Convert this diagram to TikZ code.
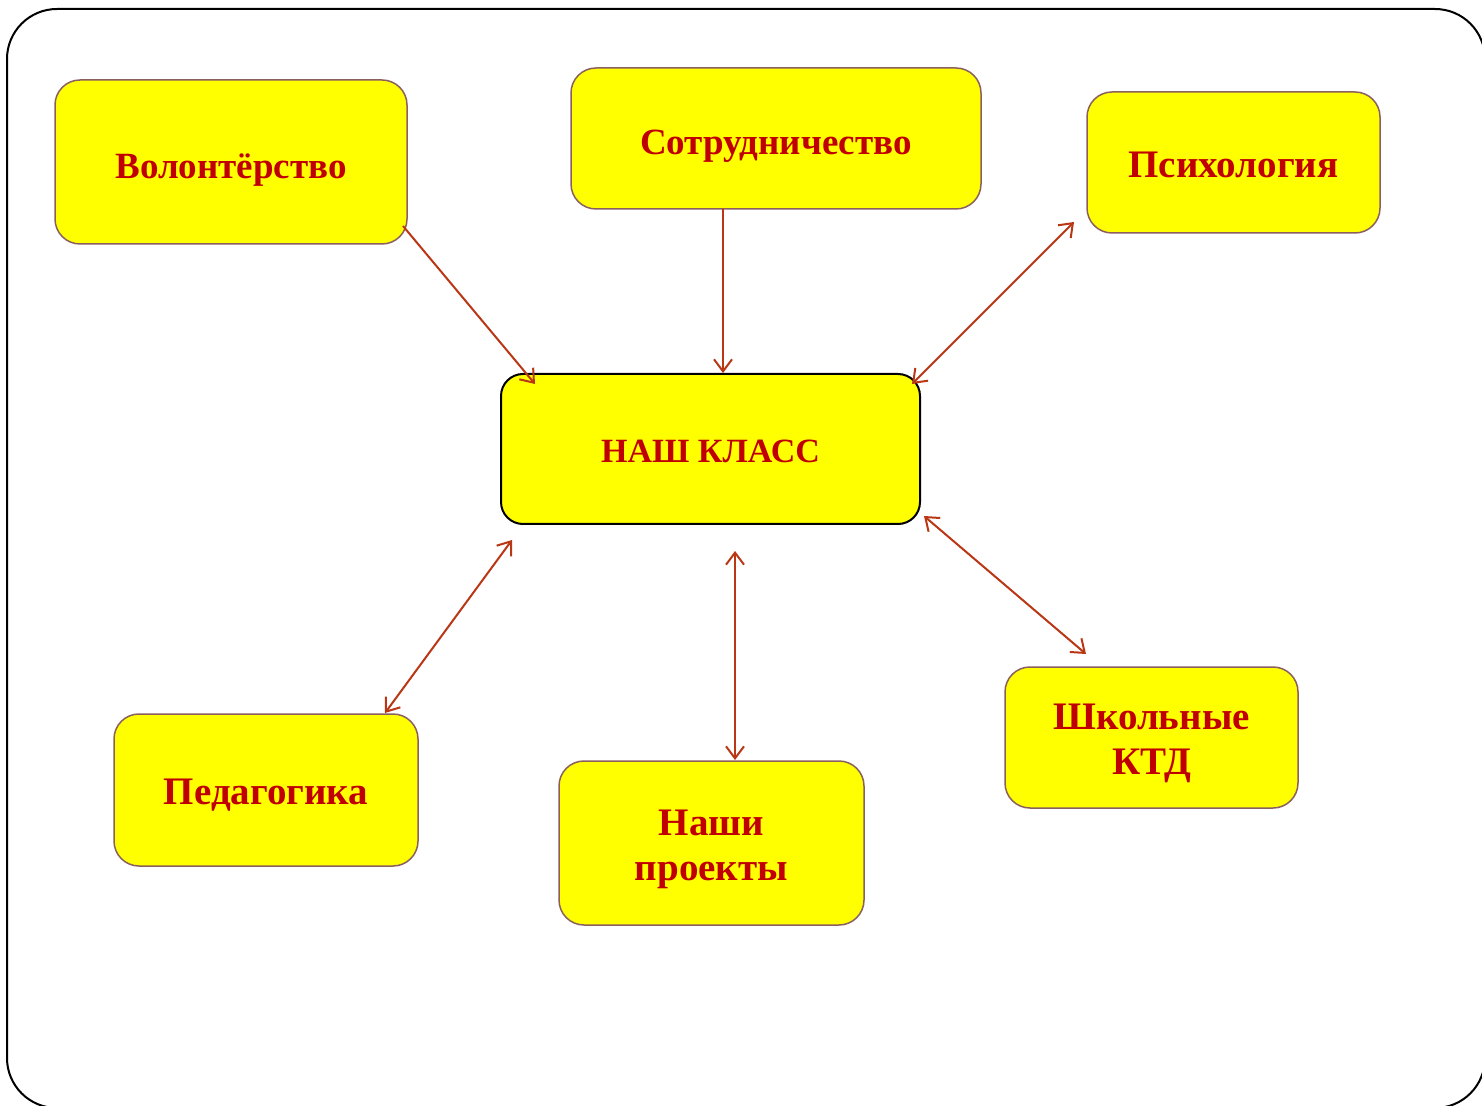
\documentclass[tikz,border=0pt]{standalone}
\usepackage{fontspec}
\setmainfont{Liberation Serif}
\usetikzlibrary{arrows.meta}
\definecolor{txtred}{RGB}{192,0,0}
\definecolor{arrred}{RGB}{185,55,20}
\definecolor{boxedge}{RGB}{140,95,95}
\definecolor{boxfill}{RGB}{255,255,0}
\newcommand{\lbl}[2][-8pt]{\raisebox{#1}[0pt][0pt]{\begin{tabular}{@{}c@{}}#2\end{tabular}}}
\tikzset{
  box/.style={draw=boxedge, line width=0.75pt, fill=boxfill, rounded corners=12.5pt,
    inner sep=0pt, align=center, text=txtred,
    font=\fontsize{19.5}{22.5}\selectfont\bfseries},
  smallfont/.style={font=\fontsize{18.5}{22.5}\selectfont\bfseries},
  centrebox/.style={box, draw=black, line width=1pt, rounded corners=11pt,
    font=\fontsize{17}{22.5}\selectfont\bfseries},
  conn/.style={draw=arrred, line width=1pt},
  tip/.style={arrows={-Straight Barb[length=6pt,width=9pt]}},
  tips/.style={arrows={Straight Barb[length=6pt,width=9pt]-Straight Barb[length=6pt,width=9pt]}}
}
\begin{document}
\begin{tikzpicture}[x=0.5pt,y=-0.5pt]
\useasboundingbox (0,0) rectangle (1482,1106);
\clip (0,0) rectangle (1482,1106);
\fill[white] (0,0) rectangle (1482,1106);
\draw[black, line width=1pt, rounded corners=25pt] (7,9) rectangle (1485,1108);

\node[box, smallfont, minimum width=176pt, minimum height=82pt] (vol) at (231,162) {\lbl{Волонтёрство}};
\node[box, smallfont, minimum width=205pt, minimum height=70.5pt] (sotr) at (776,138.5) {\lbl{Сотрудничество}};
\node[box, minimum width=146.5pt, minimum height=70.5pt] (psy) at (1233.5,162.5) {\lbl{Психология}};
\node[centrebox, minimum width=209.5pt, minimum height=75pt] (nash) at (710.5,449) {\lbl[-6.5pt]{НАШ КЛАСС}};
\node[box, minimum width=152pt, minimum height=76pt] (ped) at (266,790) {\lbl{Педагогика}};
\node[box, minimum width=152.5pt, minimum height=82pt] (proj) at (711.5,843) {\lbl{Наши\\проекты}};
\node[box, minimum width=146.5pt, minimum height=70.5pt] (shk) at (1151.5,737.5) {\lbl{Школьные\\КТД}};

\coordinate (a1s) at (403,226);  \coordinate (a1e) at (535,384);
\coordinate (a2s) at (723,209);  \coordinate (a2e) at (723,373);
\coordinate (a3s) at (1074,222); \coordinate (a3e) at (912,384);
\coordinate (a4s) at (512,540);  \coordinate (a4e) at (385,713);
\coordinate (a5s) at (735,551);  \coordinate (a5e) at (735,760);
\coordinate (a6s) at (924,516);  \coordinate (a6e) at (1086,654);

\draw[conn, tip] (a1s) -- (a1e);
\draw[conn, tip] (a2s) -- (a2e);
\draw[conn, tips] (a3s) -- (a3e);
\draw[conn, tips] (a4s) -- (a4e);
\draw[conn, tips] (a5s) -- (a5e);
\draw[conn, tips] (a6s) -- (a6e);
\end{tikzpicture}
\end{document}
